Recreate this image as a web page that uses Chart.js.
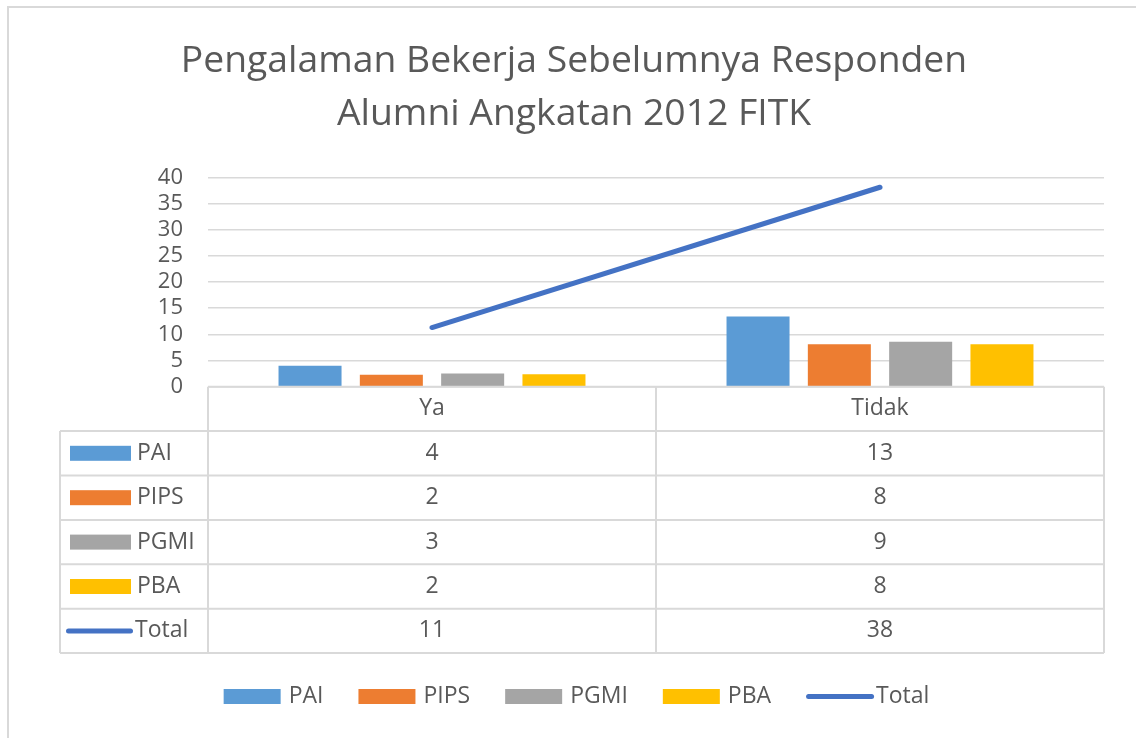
<!DOCTYPE html>
<html>
<head>
<meta charset="utf-8">
<script src="https://cdn.jsdelivr.net/npm/chart.js@4"></script>
<style>
  body { margin: 0; background: #fff; }
  canvas { display: block; }
</style>
</head>
<body>
<canvas id="chart" width="1136" height="738"></canvas>
<script>
const categories = ['Ya', 'Tidak'];
const pai = [4.0, 13.4];
const pips = [2.3, 8.1];
const pgmi = [2.5, 8.6];
const pba = [2.4, 8.1];
const total = [11.3, 38.1];
const titleLines = ['Pengalaman Bekerja Sebelumnya Responden', 'Alumni Angkatan 2012 FITK'];

const textColor = '#595959';
const lineGray = '#d9d9d9';
const fontFamily = '"Open Sans", "Noto Sans", sans-serif';

// title, outer frame, data table and legend drawn on the canvas
const excelExtras = {
    id: 'excelExtras',
    afterDraw(chart) {
        const ctx = chart.ctx;
        const area = chart.chartArea;
        const x = chart.scales.x;
        const sets = chart.data.datasets;
        ctx.save();

        // frame
        ctx.strokeStyle = lineGray;
        ctx.lineWidth = 2;
        ctx.beginPath();
        ctx.moveTo(8, 738);
        ctx.lineTo(8, 7);
        ctx.lineTo(1136, 7);
        ctx.stroke();

        // title
        ctx.fillStyle = textColor;
        ctx.textAlign = 'center';
        ctx.textBaseline = 'alphabetic';
        ctx.font = '34px ' + fontFamily;
        const w = ctx.measureText(titleLines[0]).width;
        const size = 34 * 787 / w;
        ctx.font = size.toFixed(1) + 'px ' + fontFamily;
        ctx.fillText(titleLines[0], 574, 72);
        ctx.fillText(titleLines[1], 574, 125);

        // data table
        const rowH = 44.4;
        const top = area.bottom;
        const half = (x.getPixelForValue(1) - x.getPixelForValue(0)) / 2;
        const left = 60;
        const rows = sets.length;
        const bottom = top + rowH * (rows + 1);
        ctx.strokeStyle = lineGray;
        ctx.lineWidth = 2;
        ctx.beginPath();
        ctx.moveTo(area.left, top);
        ctx.lineTo(area.right, top);
        for (let r = 1; r <= rows + 1; r++) {
            ctx.moveTo(left, top + rowH * r);
            ctx.lineTo(area.right, top + rowH * r);
        }
        ctx.moveTo(left, top + rowH);
        ctx.lineTo(left, bottom);
        ctx.moveTo(area.left, top);
        ctx.lineTo(area.left, bottom);
        categories.forEach((c, i) => {
            const px = x.getPixelForValue(i) + half;
            ctx.moveTo(px, top);
            ctx.lineTo(px, bottom);
        });
        ctx.stroke();

        ctx.font = '23px ' + fontFamily;
        ctx.textBaseline = 'middle';
        ctx.fillStyle = textColor;
        ctx.textAlign = 'center';
        categories.forEach((c, i) => {
            ctx.fillText(c, x.getPixelForValue(i), top + rowH / 2);
        });
        sets.forEach((ds, r) => {
            const cy = top + rowH * (r + 1.5);
            if (ds.type === 'line') {
                ctx.strokeStyle = ds.borderColor;
                ctx.lineWidth = 5;
                ctx.lineCap = 'round';
                ctx.beginPath();
                ctx.moveTo(68.5, cy);
                ctx.lineTo(130.5, cy);
                ctx.stroke();
            } else {
                ctx.fillStyle = ds.backgroundColor;
                ctx.fillRect(70, cy - 7.5, 61, 15);
            }
            ctx.fillStyle = textColor;
            ctx.textAlign = 'left';
            ctx.fillText(ds.label, ds.type === 'line' ? 135 : 137, cy);
            ctx.textAlign = 'center';
            ds.data.forEach((v, i) => {
                ctx.fillText(String(Math.round(v)), x.getPixelForValue(i), cy);
            });
        });

        // legend
        const ly = 696.5;
        const gap = 35;
        const items = sets.map(ds => {
            const isLine = ds.type === 'line';
            const key = isLine ? 68 : 57;
            const pad = isLine ? 2 : 8;
            return { ds, isLine, key, pad, w: key + pad + ctx.measureText(ds.label).width };
        });
        const totalW = items.reduce((s, it) => s + it.w, 0) + gap * (items.length - 1);
        let lx = 576.5 - totalW / 2;
        items.forEach(it => {
            if (it.isLine) {
                ctx.strokeStyle = it.ds.borderColor;
                ctx.lineWidth = 5;
                ctx.lineCap = 'round';
                ctx.beginPath();
                ctx.moveTo(lx + 2.5, ly);
                ctx.lineTo(lx + it.key - 2.5, ly);
                ctx.stroke();
            } else {
                ctx.fillStyle = it.ds.backgroundColor;
                ctx.fillRect(lx, ly - 7.5, it.key, 15);
            }
            ctx.fillStyle = textColor;
            ctx.textAlign = 'left';
            ctx.fillText(it.ds.label, lx + it.key + it.pad, ly);
            lx += it.w + gap;
        });
        ctx.restore();
    }
};

const barOpts = { categoryPercentage: 0.726, barPercentage: 0.775, order: 1 };

new Chart(document.getElementById('chart'), {
    type: 'bar',
    data: {
        labels: categories,
        datasets: [
            { label: 'PAI', data: pai, backgroundColor: '#5B9BD5', ...barOpts },
            { label: 'PIPS', data: pips, backgroundColor: '#ED7D31', ...barOpts },
            { label: 'PGMI', data: pgmi, backgroundColor: '#A5A5A5', ...barOpts },
            { label: 'PBA', data: pba, backgroundColor: '#FFC000', ...barOpts },
            {
                label: 'Total',
                type: 'line',
                data: total,
                borderColor: '#4472C4',
                backgroundColor: '#4472C4',
                borderWidth: 5,
                borderCapStyle: 'round',
                pointRadius: 0,
                order: 0
            }
        ]
    },
    options: {
        responsive: false,
        animation: false,
        layout: {
            padding: { left: 0, right: 32, top: 177.3, bottom: 351.3 }
        },
        plugins: {
            legend: { display: false },
            title: { display: false },
            tooltip: { enabled: false }
        },
        scales: {
            x: {
                display: false
            },
            y: {
                min: 0,
                max: 40,
                ticks: {
                    stepSize: 5,
                    autoSkip: false,
                    padding: 25,
                    color: textColor,
                    font: { size: 22, family: fontFamily, lineHeight: 1 }
                },
                grid: {
                    color: lineGray,
                    lineWidth: 1.5,
                    drawTicks: false
                },
                border: { display: false },
                afterFit(scale) {
                    scale.width = 208;
                }
            }
        }
    },
    plugins: [excelExtras]
});
</script>
</body>
</html>
